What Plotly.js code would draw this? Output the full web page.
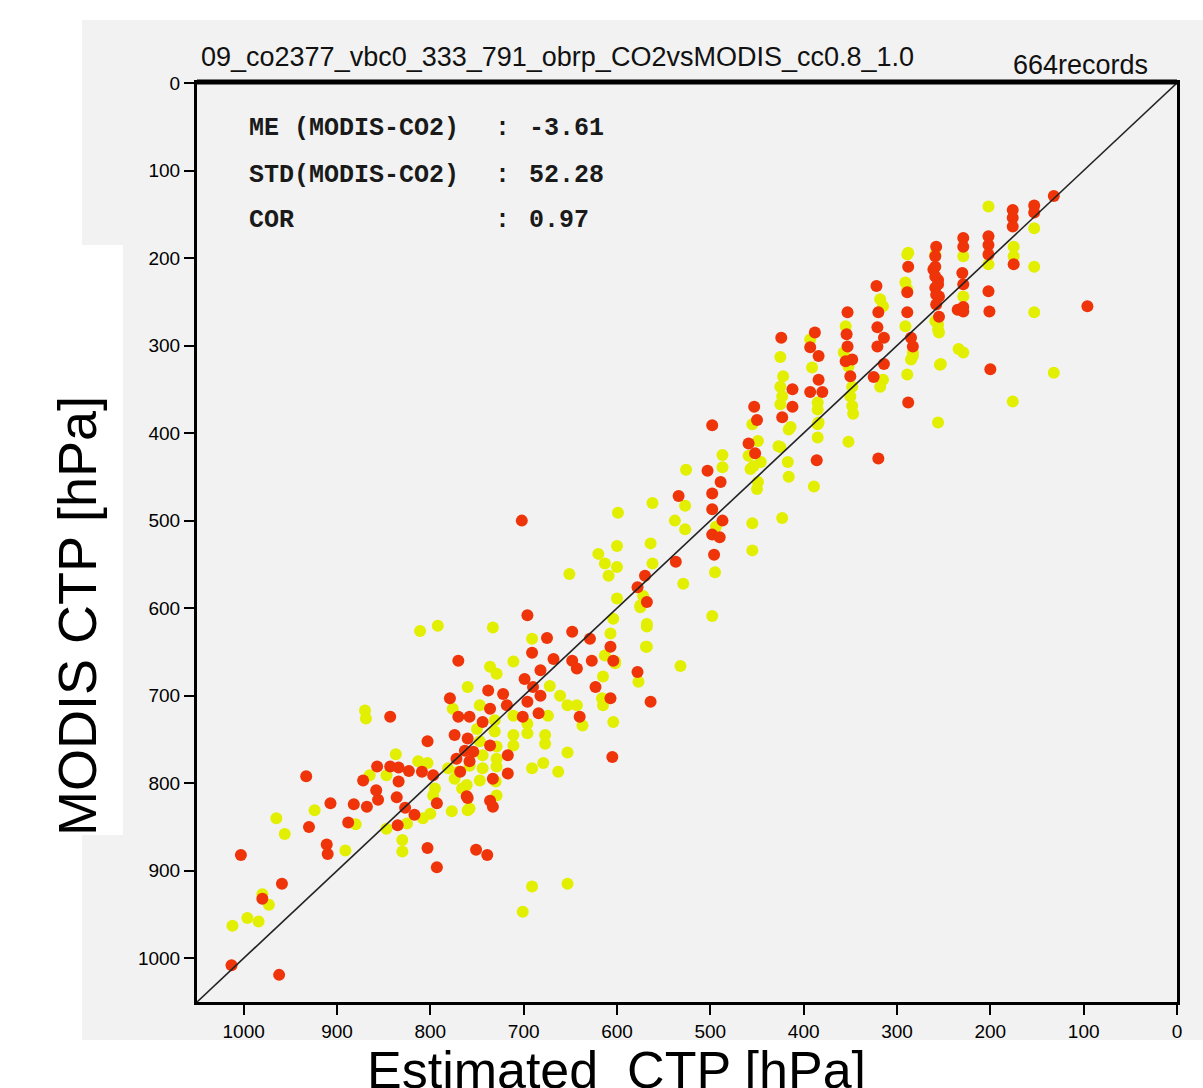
<!DOCTYPE html>
<html>
<head>
<meta charset="utf-8">
<script src="https://cdn.plot.ly/plotly-3.0.1.min.js"></script>
<style>
html,body{margin:0;padding:0;background:#ffffff;}
#chart{width:1203px;height:1088px;}
</style>
</head>
<body>
<div id="chart"></div>
<script>
// ---- data (hPa) ----
const titleText = "09_co2377_vbc0_333_791_obrp_CO2vsMODIS_cc0.8_1.0";
const recordsText = "664records";
const statLabels = ["ME (MODIS-CO2)", "STD(MODIS-CO2)", "COR"];
const statValues = ["-3.61", "52.28", "0.97"];
const tickVals = [0, 100, 200, 300, 400, 500, 600, 700, 800, 900, 1000];
const tickText = ["0", "100", "200", "300", "400", "500", "600", "700", "800", "900", "1000"];
const diagX = [1050, 0];
const diagY = [1050, 0];

const yellowX = [837,847,865,813,803,795,924,965,956,880,891,847,825,830,830,800,777,760,980,973,996,984,1012,770,761,
811,792,733,691,736,729,711,760,672,661,653,643,615,615,604,577,568,568,575,604,607,602,776,747,731,711,674,696,750,731,711,696,677,677,747,729,711,744,729,758,744,729,781,774,747,730,691,679,663,653,637,797,766,758,729,808,
425,385,385,414,425,417,416,385,385,389,423,455,449,446,457,450,455,455,487,487,526,562,527,538,527,599,494,495,529,498,564,600,620,613,600,609,651,562,600,572,575,568,569,613,602,532,616,
425,422,425,423,416,427,459,454,449,393,391,384,355,357,352,348,350,348,347,352,318,315,318,289,291,283,285,289,256,255,253,256,234,
202,153,153,153,175,175,176,132,202,229,229,229,259,259,256,254,288,289,291,283,315,
691,701,653,870,869];
const yellowY = [767,791,791,775,777,806,831,840,858,847,877,852,846,865,878,835,832,831,927,939,954,958,963,787,802,
626,620,622,635,667,675,661,690,689,700,711,711,678,711,730,684,618,644,597,612,629,661,715,711,728,723,723,732,738,741,745,743,745,755,752,758,757,768,772,780,783,781,783,795,797,798,783,777,787,765,734,814,806,829,814,840,
367,365,373,393,416,433,450,390,405,461,497,390,409,433,441,464,503,534,425,439,442,480,483,500,510,491,507,559,572,609,526,529,538,549,553,563,561,549,589,586,599,621,644,654,663,666,703,
313,335,347,358,396,415,426,438,456,293,325,388,278,308,324,347,358,369,378,410,247,339,347,196,228,312,316,333,276,285,321,388,304,
141,166,210,262,187,198,364,331,207,198,244,308,196,272,282,322,194,236,278,308,255,
918,947,915,717,726];

const redX = [933,803,872,857,843,834,823,809,797,834,858,856,836,907,882,868,827,817,793,888,835,930,911,910,1003,803,793,959,980,1013,962,761,751,
696,675,648,629,691,770,668,648,643,627,607,604,578,564,623,607,682,699,690,682,696,738,722,779,736,718,770,758,744,701,684,640,843,774,760,763,754,736,772,758,717,768,733,717,605,760,736,733,739,568,
453,450,412,423,498,459,452,503,489,498,498,487,498,490,496,534,537,386,570,578,
424,412,388,393,384,384,393,380,353,354,353,348,355,350,322,320,321,314,321,314,325,320,288,289,289,285,283,288,259,261,256,259,255,255,235,
132,153,153,176,176,176,175,202,202,202,202,201,200,229,229,230,229,229,229,258,259,259,256,258,258,96,
702];
const redY = [792,752,797,781,781,782,786,787,791,798,808,819,816,823,824,827,828,836,823,845,848,850,870,881,882,874,896,915,932,1008,1019,815,876,
608,634,627,635,651,660,658,660,669,660,644,660,673,707,690,703,671,681,690,700,707,694,698,703,715,711,724,724,730,724,720,724,724,745,749,763,764,757,772,775,768,787,795,789,770,817,820,827,882,593,
370,385,370,382,391,412,423,443,456,469,487,500,516,519,539,472,547,431,563,576,
291,350,285,302,312,339,353,353,262,287,301,316,318,335,232,262,279,291,301,321,336,429,210,239,262,291,301,365,198,213,225,234,244,267,259,
129,140,148,145,154,164,207,175,185,196,238,261,327,177,187,217,230,256,261,187,210,221,230,242,253,255,
500];

// ---- pixel helpers for layout (plot area 197..1177 x 83..1002) ----
const L = 197, T = 83, W = 980, H = 919;
const px = v => (v - L) / W;
const py = v => (T + H - v) / H;

const traces = [
  {x: yellowX, y: yellowY, type: 'scatter', mode: 'markers',
   marker: {color: '#e2ef00', size: 12, line: {width: 0}}, hoverinfo: 'skip'},
  {x: redX, y: redY, type: 'scatter', mode: 'markers',
   marker: {color: '#ee3408', size: 12, line: {width: 0}}, hoverinfo: 'skip'},
  {x: diagX, y: diagY, type: 'scatter', mode: 'lines',
   line: {color: '#222222', width: 1.6}, hoverinfo: 'skip'}
];

const monoFont = {family: '"Courier New", "Liberation Mono", monospace', size: 25, color: '#1a1a1a', weight: 'bold'};
const ann = [
  {text: titleText, xref: 'paper', yref: 'paper', x: px(199), y: py(57), xanchor: 'left', yanchor: 'middle',
   showarrow: false, font: {family: 'Liberation Sans, Arial, sans-serif', size: 27, color: '#111'}},
  {text: recordsText, xref: 'paper', yref: 'paper', x: px(1150), y: py(65), xanchor: 'right', yanchor: 'middle',
   showarrow: false, font: {family: 'Liberation Sans, Arial, sans-serif', size: 27, color: '#111'}},
  {text: 'MODIS CTP [hPa]', xref: 'paper', yref: 'paper', x: px(77), y: py(616), xanchor: 'center', yanchor: 'middle',
   textangle: -90, showarrow: false, font: {family: 'Liberation Sans, Arial, sans-serif', size: 54, color: '#000'}},
  {text: 'Estimated  CTP [hPa]', xref: 'paper', yref: 'paper', x: px(616), y: py(1039), xanchor: 'center', yanchor: 'top',
   showarrow: false, font: {family: 'Liberation Sans, Arial, sans-serif', size: 52, color: '#000'}}
];
const rowY = [129, 175, 221];
statLabels.forEach((s, i) => {
  ann.push({text: s, xref: 'paper', yref: 'paper', x: px(247), y: py(rowY[i]), xanchor: 'left', yanchor: 'middle',
            showarrow: false, font: monoFont});
  ann.push({text: ':', xref: 'paper', yref: 'paper', x: px(493), y: py(rowY[i]), xanchor: 'left', yanchor: 'middle',
            showarrow: false, font: monoFont});
  ann.push({text: statValues[i], xref: 'paper', yref: 'paper', x: px(527), y: py(rowY[i]), xanchor: 'left', yanchor: 'middle',
            showarrow: false, font: monoFont});
});

const axisCommon = {
  range: [1050, 0], tickmode: 'array', tickvals: tickVals, ticktext: tickText,
  showgrid: false, zeroline: false, showline: true, linecolor: '#000', linewidth: 3, mirror: true,
  ticks: 'outside', ticklen: 10, tickwidth: 2, tickcolor: '#000',
  tickfont: {family: 'Liberation Sans, Arial, sans-serif', size: 19, color: '#000'}
};

const layout = {
  width: 1203, height: 1088,
  margin: {l: L, r: 1203 - L - W, t: T, b: 1088 - T - H, pad: 0},
  paper_bgcolor: '#ffffff', plot_bgcolor: '#f2f2f2',
  showlegend: false,
  xaxis: Object.assign({}, axisCommon),
  yaxis: Object.assign({}, axisCommon),
  annotations: ann,
  shapes: [
    {type: 'rect', xref: 'paper', yref: 'paper', x0: px(82), x1: px(1203), y0: py(1040), y1: py(20),
     fillcolor: '#f2f2f2', line: {width: 0}, layer: 'below'},
    {type: 'rect', xref: 'paper', yref: 'paper', x0: px(0), x1: px(123), y0: py(835), y1: py(245),
     fillcolor: '#ffffff', line: {width: 0}, layer: 'below'},
    {type: 'line', xref: 'paper', yref: 'paper', x0: 0, x1: 1, y0: py(82), y1: py(82),
     line: {color: '#000', width: 5}, layer: 'above'}
  ]
};

Plotly.newPlot('chart', traces, layout, {displayModeBar: false, staticPlot: true});
</script>
</body>
</html>
